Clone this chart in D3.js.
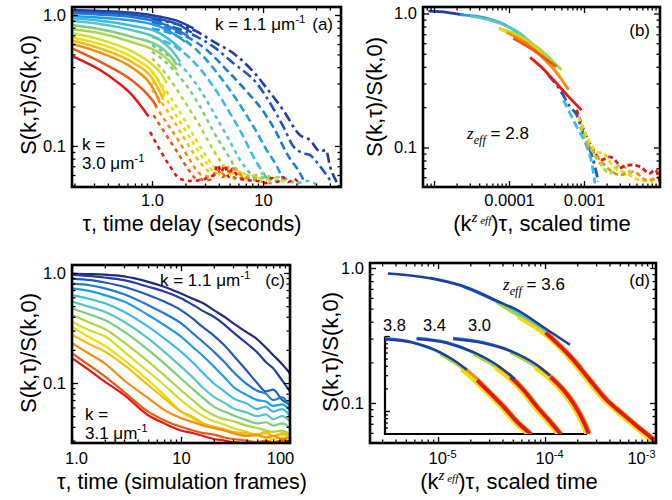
<!DOCTYPE html>
<html><head><meta charset="utf-8">
<script src="https://cdn.jsdelivr.net/npm/d3@7"></script>
<style>body{margin:0;background:#fff}svg{display:block}</style>
</head><body>
<svg width="672" height="500"></svg>
<script>
// ---------------- DATA ----------------
// Panel (a): short-time (solid) and long-time (dashed) curves, k = 1.1 ... 3.0 µm^-1
const aSolid = [
 [[0.19,1.09],[0.34,1.075],[0.68,1.04],[1.18,0.97],[1.67,0.905],[2.36,0.79]],
 [[0.19,1.06],[0.34,1.04],[0.68,1.0],[1.18,0.927],[1.67,0.854],[2.28,0.733]],
 [[0.19,1.03],[0.34,1.006],[0.68,0.96],[1.18,0.874],[1.6,0.78],[2.13,0.69]],
 [[0.19,0.982],[0.34,0.954],[0.68,0.905],[1.18,0.815],[1.6,0.71],[1.98,0.626]],
 [[0.19,0.943],[0.34,0.905],[0.68,0.824],[1.18,0.725],[1.5,0.63],[1.85,0.541]],
 [[0.19,0.905],[0.34,0.854],[0.68,0.76],[1.18,0.644],[1.5,0.54],[1.79,0.44]],
 [[0.19,0.839],[0.34,0.778],[0.68,0.675],[1.18,0.573],[1.45,0.49],[1.67,0.415]],
 [[0.19,0.778],[0.34,0.725],[0.68,0.615],[1.18,0.51],[1.45,0.44],[1.67,0.38]],
 [[0.19,0.725],[0.34,0.65],[0.68,0.52],[1.0,0.42],[1.2,0.36],[1.36,0.3]],
 [[0.19,0.675],[0.34,0.6],[0.68,0.47],[1.0,0.37],[1.15,0.31],[1.31,0.25]],
 [[0.19,0.64],[0.34,0.556],[0.68,0.43],[1.0,0.33],[1.12,0.28],[1.27,0.225]],
 [[0.19,0.6],[0.34,0.516],[0.68,0.39],[0.9,0.32],[1.05,0.265],[1.18,0.212]],
 [[0.19,0.557],[0.34,0.44],[0.68,0.31],[0.9,0.25],[1.0,0.225],[1.1,0.2]],
 [[0.19,0.486],[0.34,0.38],[0.48,0.31],[0.68,0.238],[0.8,0.2],[0.93,0.168]]
];
const aDashed = [
 [[1.0,0.93],[2.71,0.725],[3.57,0.626],[5.41,0.51],[8.18,0.369],[10.8,0.276],[15.2,0.188],[21.5,0.121],[26.5,0.111],[32.6,0.091],[36.9,0.093],[40.1,0.07],[46.1,0.053]],
 [[1.0,0.89],[2.53,0.683],[3.57,0.573],[5.41,0.428],[8.77,0.301],[11.6,0.212],[15.2,0.141],[18.8,0.099],[23.1,0.088],[26.5,0.085],[32.6,0.07],[40.1,0.055]],
 [[1.0,0.854],[2.05,0.683],[3.11,0.541],[4.71,0.38],[7.13,0.26],[10.07,0.183],[13.3,0.125],[16.3,0.088],[21.5,0.062],[23.9,0.052]],
 [[1.0,0.79],[2.05,0.626],[2.9,0.481],[4.1,0.338],[5.79,0.225],[8.18,0.141],[10.8,0.093],[13.3,0.07],[15.2,0.055]],
 [[1.0,0.683],[1.79,0.541],[2.53,0.415],[3.57,0.284],[5.04,0.178],[6.65,0.118],[8.18,0.083],[10.07,0.062],[11.6,0.052]],
 [[1.0,0.59],[1.45,0.481],[2.05,0.369],[2.9,0.245],[3.83,0.163],[5.04,0.108],[6.21,0.078],[7.63,0.062],[8.77,0.056],[11,0.058],[13,0.054],[16,0.056],[20,0.052],[25,0.054],[30,0.051]],
 [[1.0,0.525],[1.36,0.428],[1.92,0.31],[2.71,0.2],[3.57,0.129],[4.71,0.088],[5.79,0.066],[7.13,0.056],[9,0.06],[11,0.055],[14,0.058],[18,0.053]],
 [[1.0,0.467],[1.36,0.348],[1.92,0.225],[2.71,0.141],[3.57,0.093],[4.71,0.066],[5.79,0.055],[7,0.06],[8.5,0.057],[10,0.062],[12,0.056]],
 [[1.0,0.369],[1.45,0.238],[2.05,0.149],[2.71,0.099],[3.57,0.07],[4.39,0.058],[5,0.06],[6,0.064],[7,0.057],[8.5,0.06],[10,0.055],[13,0.057],[16,0.052]],
 [[1.0,0.31],[1.36,0.225],[1.79,0.153],[2.36,0.105],[3.11,0.074],[3.83,0.062],[4.5,0.068],[5.2,0.06],[6.3,0.063],[7.5,0.056]],
 [[1.0,0.268],[1.36,0.188],[1.79,0.129],[2.36,0.088],[3.11,0.066],[3.57,0.06],[4.2,0.072],[4.8,0.064],[5.5,0.068],[6.5,0.058],[8,0.055]],
 [[1.06,0.206],[1.36,0.149],[1.79,0.105],[2.28,0.074],[2.8,0.06],[3.5,0.058],[4,0.068],[4.4,0.061],[5,0.07],[6,0.062],[7,0.058],[9,0.054],[12,0.052]],
 [[1.03,0.172],[1.31,0.125],[1.67,0.091],[2.13,0.066],[2.53,0.056],[3.3,0.055],[3.9,0.066],[4.3,0.058],[4.9,0.064],[5.6,0.057],[7,0.055]],
 [[0.96,0.128],[1.18,0.093],[1.45,0.07],[1.79,0.056],[2.3,0.054],[3.6,0.06],[3.9,0.072],[4.2,0.063],[4.5,0.071],[4.9,0.058],[5.3,0.067],[5.8,0.06],[7,0.055],[9,0.054],[10.5,0.052],[12,0.057],[13.5,0.053],[15,0.058],[17,0.053],[19,0.056],[21,0.052]]
];
const aXTicks = [1, 10];
const aXLabels = ["1.0", "10"];
const yTicks = [0.1, 1];
const yLabels = ["0.1", "1.0"];

// Panel (b): collapsed with z_eff = 2.8
const bSolid = [
 [[8.4e-6,1.04],[1.48e-5,1.02],[2.46e-5,0.975]],
 [[2.2e-5,0.98],[5.04e-5,0.92],[9.3e-5,0.81],[1.91e-4,0.6],[3.0e-4,0.45]],
 [[3.02e-5,0.955],[7.59e-5,0.845],[1.4e-4,0.711],[2.34e-4,0.55],[3.9e-4,0.4]],
 [[7.3e-5,0.775],[1.4e-4,0.68],[2.6e-4,0.54],[5.0e-4,0.38]],
 [[7.6e-5,0.76],[1.4e-4,0.66],[2.3e-4,0.54],[3.5e-4,0.42],[4.8e-4,0.34]],
 [[9.3e-5,0.72],[1.72e-4,0.6],[2.9e-4,0.46],[4.5e-4,0.35],[6.2e-4,0.27]],
 [[1.14e-4,0.653],[2.1e-4,0.534],[4.3e-4,0.40]],
 [[1.91e-4,0.47],[2.8e-4,0.39],[3.9e-4,0.32],[6e-4,0.245],[9.3e-4,0.19]]
];
const bSolidK = [0,3,5,7,9,11,12,13];
const bDashed = [
 [[3.34e-4,0.347],[4.79e-4,0.269],[6.5e-4,0.202],[7.98e-4,0.175],[9.8e-4,0.128],[1.2e-3,0.096],[1.4e-3,0.072],[1.55e-3,0.0555]],
 [[5.3e-4,0.226],[7.98e-4,0.143],[1.09e-3,0.101],[1.27e-3,0.0763],[1.4e-3,0.054]],
 [[7.98e-4,0.191],[1.03e-3,0.128],[1.33e-3,0.096],[1.71e-3,0.0807],[2.22e-3,0.085],[3.02e-3,0.072]],
 [[8.4e-4,0.17],[1.14e-3,0.114],[1.48e-3,0.093],[1.81e-3,0.0904],[2.46e-3,0.0719],[3.7e-3,0.0641],[5.58e-3,0.057],[8.4e-3,0.0555]],
 [[1.09e-3,0.108],[1.63e-3,0.0807],[2.22e-3,0.0679],[3.02e-3,0.0623],[4.55e-3,0.066],[6.85e-3,0.057],[1.03e-2,0.0606]],
 [[8.85e-4,0.143],[1.2e-3,0.101],[1.63e-3,0.0763],[2.22e-3,0.0641],[3.02e-3,0.0742],[4.55e-3,0.0606]],
 [[3.02e-3,0.07],[4.1e-3,0.074],[5.58e-3,0.072],[7.5e-3,0.0641],[8.9e-3,0.068],[1.03e-2,0.055]]
];
const bDashedK = [1,4,13,9,11,7,13];
const bXTicks = [1e-5, 1e-4, 1e-3];
const bXLabels = ["", "0.0001", "0.001"];

// Panel (c): simulation, k = 1.1 ... 3.1 µm^-1
const cT = [1,1.5,2,3,5,7,10,13,16,20,25,30,40,50,60,70,85,100];
const cCurves = [
 [0.98,0.975,0.965,0.93,0.83,0.75,0.65,0.58,0.53,0.46,0.40,0.35,0.29,0.25,0.21,0.18,0.148,0.122],
 [0.96,0.935,0.91,0.86,0.75,0.68,0.59,0.51,0.45,0.40,0.34,0.29,0.23,0.19,0.155,0.136,0.105,0.084],
 [0.89,0.86,0.82,0.75,0.63,0.55,0.46,0.38,0.32,0.27,0.22,0.18,0.13,0.10,0.084,0.087,0.07,0.064],
 [0.80,0.77,0.725,0.64,0.51,0.43,0.35,0.28,0.235,0.193,0.155,0.127,0.098,0.085,0.08,0.07,0.074,0.06],
 [0.725,0.68,0.63,0.55,0.415,0.337,0.264,0.21,0.175,0.141,0.113,0.093,0.078,0.07,0.068,0.062,0.064,0.056],
 [0.63,0.576,0.53,0.445,0.325,0.255,0.193,0.152,0.123,0.099,0.084,0.073,0.065,0.058,0.061,0.055,0.058,0.05],
 [0.55,0.487,0.445,0.361,0.255,0.193,0.141,0.111,0.09,0.075,0.066,0.059,0.054,0.05,0.052,0.047,0.05,0.045],
 [0.477,0.415,0.374,0.293,0.2,0.151,0.11,0.087,0.073,0.061,0.055,0.051,0.046,0.043,0.044,0.041,0.043,0.039],
 [0.415,0.349,0.31,0.234,0.157,0.118,0.086,0.069,0.058,0.051,0.047,0.045,0.041,0.039,0.037,0.036,0.037,0.034],
 [0.361,0.297,0.266,0.193,0.127,0.096,0.07,0.057,0.05,0.045,0.042,0.039,0.036,0.034,0.035,0.033,0.034,0.031],
 [0.325,0.255,0.218,0.162,0.106,0.078,0.055,0.047,0.042,0.039,0.037,0.035,0.034,0.033,0.032,0.031,0.032,0.031],
 [0.273,0.222,0.193,0.146,0.096,0.073,0.055,0.049,0.043,0.04,0.038,0.036,0.035,0.034,0.036,0.033,0.035,0.033],
 [0.23,0.18,0.151,0.106,0.073,0.057,0.048,0.044,0.041,0.039,0.037,0.035,0.033,0.034,0.032,0.033,0.031,0.032],
 [0.186,0.141,0.115,0.083,0.055,0.046,0.04,0.037,0.035,0.034,0.032,0.031,0.03,0.029,0.03,0.029,0.03,0.029],
 [0.168,0.127,0.103,0.078,0.051,0.043,0.037,0.035,0.033,0.031,0.03,0.029,0.0285,0.028,0.029,0.028,0.0285,0.028]
];
const cXTicks = [1, 10, 100];
const cXLabels = ["1.0", "10", "100"];

// Panel (d): collapse with z_eff = 3.6, inset with 3.8, 3.4, 3.0
const dMainNavy = [[3.4e-6,0.91],[8.4e-6,0.84],[1.72e-5,0.73],[3.54e-5,0.57],[5.44e-5,0.49],[1.04e-4,0.35],[1.71e-4,0.27]];
const dMain = [[3.6e-6,0.905],[8.4e-6,0.835],[1.72e-5,0.725],[3.54e-5,0.56],[5.84e-5,0.44],[1e-4,0.335],[1.78e-4,0.214],[2.54e-4,0.152],[3.64e-4,0.108],[5.2e-4,0.084],[7.45e-4,0.066],[9.9e-4,0.055],[1.1e-3,0.051]];
const dBundleK = [2,4,5,7,9,11,13];
const dBundleFrom = [8e-6,1.2e-5,2e-5,3.5e-5,5e-5,6e-5,9e-5];
const dBundleTo = [2.6e-4,7.5e-4,7.5e-4,9e-4,1.1e-3,1.1e-3,1.1e-3];
const insetZ = ["3.8", "3.4", "3.0"];
const insetSets = [
 [[3e-6,0.917],[9e-6,0.811],[2.52e-5,0.597],[6.2e-5,0.377],[1.04e-4,0.263],[1.75e-4,0.175],[2.92e-4,0.116],[4.9e-4,0.073],[8.2e-4,0.051]],
 [[1.02e-5,0.926],[3.27e-5,0.812],[9.15e-5,0.597],[2.25e-4,0.396],[3.79e-4,0.291],[6.34e-4,0.193],[1.06e-3,0.116],[1.78e-3,0.073],[2.6e-3,0.051]],
 [[4.2e-5,0.926],[1.34e-4,0.812],[3.79e-4,0.63],[1.06e-3,0.396],[1.78e-3,0.291],[2.97e-3,0.193],[4.37e-3,0.128],[6.45e-3,0.073],[7.8e-3,0.051]]
];
const insetNavy = [
 [[3e-6,0.917],[9e-6,0.82],[2.52e-5,0.615],[4.5e-5,0.47],[7.1e-5,0.36]],
 [[1.02e-5,0.926],[3.27e-5,0.82],[9.15e-5,0.62],[2.25e-4,0.42],[4.6e-4,0.27]],
 [[4.2e-5,0.926],[1.34e-4,0.82],[3.79e-4,0.645],[1.06e-3,0.42],[1.78e-3,0.3]]
];
const dXTicks = [1e-5, 1e-4, 1e-3];
const dXBase = ["10", "10", "10"];
const dXExp = ["-5", "-4", "-3"];

// ---------------- DRAWING ----------------
const FONT = '"Liberation Sans", Arial, Helvetica, sans-serif';
const SERIF = '"Liberation Serif", "Times New Roman", Times, serif';
const svg = d3.select("svg");
const jetStops = ["#28287c","#2242a8","#1f68cc","#2196de","#42bde6","#62c8b0","#9ad24a","#d4df2a","#f6dc00","#f9a812","#f36814","#e01818"];
const jet = d3.scaleLinear().domain(jetStops.map((_, i) => i / (jetStops.length - 1))).range(jetStops);
const colA = i => jet(0.07 + i * 0.93 / 13);
const colC = i => jet(i / 14);

function panel(o) {
  const x = d3.scaleLog().domain(o.xDomain).range([o.left, o.right]);
  const y = d3.scaleLog().domain(o.yDomain).range([o.bottom, o.top]);
  const id = "clip-" + o.name;
  svg.append("clipPath").attr("id", id).append("rect")
    .attr("x", o.left).attr("y", o.top).attr("width", o.right - o.left).attr("height", o.bottom - o.top);
  const plot = svg.append("g").attr("clip-path", `url(#${id})`);
  const over = svg.append("g");
  return { x, y, plot, over, o };
}
const isMajor = (v, arr) => arr.some(m => Math.abs(m - v) / m < 1e-6);
function mkAxis(p, fn, scale, vals, size, tr, fmt, pad) {
  const a = fn(scale).tickValues(vals).tickSizeInner(-size).tickSizeOuter(0)
    .tickPadding(pad || 0).tickFormat(fmt || (() => ""));
  const g = p.over.append("g").attr("transform", tr).call(a);
  g.select(".domain").remove();
  g.selectAll("line").attr("stroke", "#000").attr("stroke-width", 1.3);
  g.selectAll("text").attr("font-family", FONT).attr("font-size", 16.5).attr("fill", "#000");
  return g;
}
function frame(p, xLab, yLab, xPad, yPad) {
  const { x, y, o } = p;
  const xMin = x.ticks().filter(v => !isMajor(v, o.xMajor) && v >= o.xDomain[0] && v <= o.xDomain[1]);
  const yMin = y.ticks().filter(v => !isMajor(v, o.yMajor));
  const xMaj = o.xMajor.filter(v => v >= o.xDomain[0] * 0.999 && v <= o.xDomain[1] * 1.001);
  const gx = mkAxis(p, d3.axisBottom, x, xMaj, 6, `translate(0,${o.bottom})`, xLab ? ((d, i) => xLab[o.xMajor.indexOf(d)]) : null, xPad);
  mkAxis(p, d3.axisBottom, x, xMin, 3.5, `translate(0,${o.bottom})`);
  mkAxis(p, d3.axisTop, x, xMaj, 6, `translate(0,${o.top})`);
  mkAxis(p, d3.axisTop, x, xMin, 3.5, `translate(0,${o.top})`);
  mkAxis(p, d3.axisLeft, y, o.yMajor, 6, `translate(${o.left},0)`, (d, i) => yLabels[i], yPad);
  mkAxis(p, d3.axisLeft, y, yMin, 3.5, `translate(${o.left},0)`);
  mkAxis(p, d3.axisRight, y, o.yMajor, 6, `translate(${o.right},0)`);
  mkAxis(p, d3.axisRight, y, yMin, 3.5, `translate(${o.right},0)`);
  p.over.append("rect").attr("x", o.left).attr("y", o.top)
    .attr("width", o.right - o.left).attr("height", o.bottom - o.top)
    .attr("fill", "none").attr("stroke", "#000").attr("stroke-width", 2.6);
  return gx;
}
function lineGen(p) {
  return d3.line().x(d => p.x(d[0])).y(d => p.y(d[1])).curve(d3.curveMonotoneX);
}
function text(g, x, y, s, size, anchor) {
  return g.append("text").attr("x", x).attr("y", y).attr("font-family", FONT)
    .attr("font-size", size).attr("text-anchor", anchor || "start").attr("fill", "#000").text(s);
}
function kLabel(g, x, y, s, size) {
  const t = text(g, x, y, s, size);
  t.append("tspan").attr("dy", -size * 0.42).attr("font-size", size * 0.68).text("-1");
  return t;
}
function zeffLabel(g, x, y, val, size) {
  const t = g.append("text").attr("x", x).attr("y", y).attr("font-size", size).attr("fill", "#000");
  t.append("tspan").attr("font-family", SERIF).attr("font-style", "italic").text("z");
  t.append("tspan").attr("font-family", SERIF).attr("font-style", "italic").attr("font-size", size * 0.72).attr("dy", size * 0.3).text("eff");
  t.append("tspan").attr("font-family", FONT).attr("dy", -size * 0.3).text(" = " + val);
}
function yTitle(x, y) {
  svg.append("text").attr("transform", `translate(${x},${y}) rotate(-90)`).attr("text-anchor", "middle")
    .attr("font-family", FONT).attr("font-size", 22).attr("fill", "#000").text("S(k,\u03C4)/S(k,0)");
}
function scaledTitle(x, y) {
  const t = svg.append("text").attr("x", x).attr("y", y).attr("text-anchor", "middle")
    .attr("font-family", FONT).attr("font-size", 22).attr("fill", "#000");
  t.append("tspan").text("(k");
  t.append("tspan").attr("font-family", SERIF).attr("font-style", "italic").attr("font-size", 15).attr("dy", -9).text("z");
  t.append("tspan").attr("font-family", SERIF).attr("font-style", "italic").attr("font-size", 11).attr("dy", 2).text(" eff");
  t.append("tspan").attr("dy", 7).text(")\u03C4, scaled time");
}

// ===== Panel (a) =====
const pa = panel({ name: "a", left: 72, right: 341, top: 7, bottom: 187,
  xDomain: [0.19, 50.4], yDomain: [0.0486, 1.151], xMajor: aXTicks, yMajor: yTicks });
const la = lineGen(pa);
aDashed.forEach((c, i) => {
  pa.plot.append("path").attr("d", la(c)).attr("fill", "none").attr("stroke", colA(i))
    .attr("stroke-width", 2.6).attr("stroke-dasharray", i < 2 ? "10,4,3,4" : i < 5 ? "8,4" : "4,4");
});
aSolid.forEach((c, i) => {
  pa.plot.append("path").attr("d", la(c)).attr("fill", "none").attr("stroke", colA(i)).attr("stroke-width", 2.5);
});
frame(pa, aXLabels, yLabels, 7, 6);
kLabel(pa.over, 215, 30, "k = 1.1 \u03BCm", 17);
text(pa.over, 333, 30, "(a)", 17, "end");
text(pa.over, 82, 150, "k =", 17);
kLabel(pa.over, 82, 169, "3.0 \u03BCm", 17);
yTitle(36, 95);
text(svg, 192, 231, "\u03C4, time delay (seconds)", 21.5, "middle");

// ===== Panel (b) =====
const pb = panel({ name: "b", left: 423, right: 660, top: 7, bottom: 187,
  xDomain: [7.13e-6, 1.031e-2], yDomain: [0.0507, 1.118], xMajor: bXTicks, yMajor: yTicks });
const lb = lineGen(pb);
bDashed.forEach((c, i) => {
  const k = bDashedK[i];
  pb.plot.append("path").attr("d", lb(c)).attr("fill", "none").attr("stroke", colA(k))
    .attr("stroke-width", 2.8).attr("stroke-dasharray", k < 2 ? "10,4,3,4" : k < 5 ? "8,4" : "5,3");
});
bSolid.forEach((c, i) => {
  pb.plot.append("path").attr("d", lb(c)).attr("fill", "none").attr("stroke", colA(bSolidK[i])).attr("stroke-width", 2.8);
});
frame(pb, bXLabels, yLabels, 7, 6);
text(pb.over, 650, 36, "(b)", 17, "end");
zeffLabel(pb.over, 467, 139, "2.8", 17);
yTitle(382, 97);
scaledTitle(542, 231);

// ===== Panel (c) =====
const pc = panel({ name: "c", left: 72, right: 290, top: 265, bottom: 443,
  xDomain: [1, 100], yDomain: [0.02851, 1.182], xMajor: cXTicks, yMajor: yTicks });
const lc = lineGen(pc);
cCurves.forEach((vals, i) => {
  pc.plot.append("path").attr("d", lc(vals.map((v, j) => [cT[j], v]))).attr("fill", "none")
    .attr("stroke", colC(i)).attr("stroke-width", 2.2);
});
const gcx = frame(pc, cXLabels, yLabels, 9, 6);
gcx.selectAll(".tick text").attr("dx", (d, i) => [4, 0, -10][i]);
kLabel(pc.over, 160, 286, "k = 1.1 \u03BCm", 17);
text(pc.over, 285, 286, "(c)", 17, "end");
text(pc.over, 85, 420, "k =", 17);
kLabel(pc.over, 85, 439, "3.1 \u03BCm", 17);
yTitle(36, 353);
text(svg, 182, 489, "\u03C4, time (simulation frames)", 21.5, "middle");

// ===== Panel (d) =====
const pd = panel({ name: "d", left: 370, right: 656, top: 263, bottom: 443,
  xDomain: [2.31e-6, 1.09e-3], yDomain: [0.0505, 1.089], xMajor: dXTicks, yMajor: yTicks });
const ld = lineGen(pd);
{
  const offs = [[0,-1],[0,0],[1,0],[0,1],[-2,1.5],[2,0],[0.5,0.5]];
  const widths = [2.4,2.6,2.6,2.6,3.2,3,3.8];
  dBundleK.forEach((k, i) => {
    const seg = dMain.filter(d => d[0] >= dBundleFrom[i] && d[0] <= dBundleTo[i]);
    pd.plot.append("path").attr("d", ld(seg)).attr("fill", "none").attr("stroke", colA(k))
      .attr("stroke-width", widths[i]).attr("transform", `translate(${offs[i][0]},${offs[i][1]})`);
  });
  pd.plot.append("path").attr("d", ld(dMainNavy)).attr("fill", "none").attr("stroke", colA(0)).attr("stroke-width", 2.6);
}
// inset
const ix = d3.scaleLog().domain([3e-6, 3e-2]).range([385, 623]);
const iy = d3.scaleLog().domain([0.05, 1]).range([434, 336.5]);
svg.append("clipPath").attr("id", "clip-inset").append("rect").attr("x", 385).attr("y", 330).attr("width", 230).attr("height", 104);
const ig = svg.append("g").attr("clip-path", "url(#clip-inset)");
const li = d3.line().x(d => ix(d[0])).y(d => iy(d[1])).curve(d3.curveMonotoneX);
insetSets.forEach((set, s) => {
  const n = set.length;
  const strands = [[2,0,6,[0,-1],2.4],[5,1,7,[1,0],2.6],[7,2,n-1,[0,1],2.6],[9,3,n,[-2,1.5],3.2],[11,3,n,[2,0],3],[13,4,n,[0.5,0.5],3.8]];
  strands.forEach(([k, a, b, off, w]) => {
    ig.append("path").attr("d", li(set.slice(a, b))).attr("fill", "none").attr("stroke", colA(k))
      .attr("stroke-width", w).attr("transform", `translate(${off[0]},${off[1]})`);
  });
  ig.append("path").attr("d", li(insetNavy[s])).attr("fill", "none").attr("stroke", colA(0)).attr("stroke-width", 2.4);
});
const iax = pd.over.append("g");
iax.append("path").attr("d", `M${385},${336.5}V${434}H${587}`).attr("fill", "none").attr("stroke", "#000").attr("stroke-width", 2.2);
iy.ticks().forEach(v => {
  const major = isMajor(v, [0.1, 1]);
  iax.append("line").attr("x1", 385).attr("x2", 385 + (major ? 5 : 3)).attr("y1", iy(v)).attr("y2", iy(v))
    .attr("stroke", "#000").attr("stroke-width", 1.3);
});
const gdx = frame(pd, null, yLabels, 9, 6);
gdx.selectAll(".tick text").each(function (d, i) {
  const t = d3.select(this);
  t.text(null).attr("font-size", 16.5).attr("dx", [4, 4, -11][i]);
  t.append("tspan").text(dXBase[i]);
  t.append("tspan").attr("dy", "-0.55em").attr("font-size", 11).text(dXExp[i]);
});
text(pd.over, 650, 286, "(d)", 17, "end");
zeffLabel(pd.over, 503, 290, "3.6", 17);
insetZ.forEach((z, i) => text(pd.over, [383, 423, 468][i], 331, z, 16.5));
yTitle(338, 352);
scaledTitle(509, 489);
</script>
</body></html>
